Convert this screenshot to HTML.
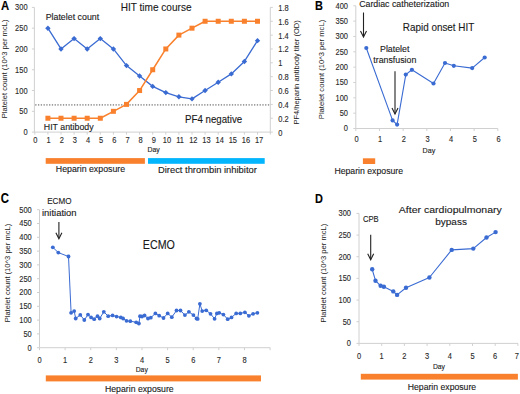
<!DOCTYPE html>
<html><head><meta charset="utf-8"><style>
html,body{margin:0;padding:0;background:#fff;width:520px;height:394px;overflow:hidden}
svg{display:block;font-family:"Liberation Sans",sans-serif}
text{stroke:currentColor;stroke-width:0.12px}
</style></head><body>
<svg width="520" height="394" viewBox="0 0 520 394">
<rect width="520" height="394" fill="#fff"/>
<line x1="34.40" y1="7.40" x2="34.40" y2="132.10" stroke="#d0d0d0" stroke-width="1" />
<line x1="31.90" y1="132.10" x2="34.40" y2="132.10" stroke="#d0d0d0" stroke-width="1" />
<text x="23.44" y="135.07" font-size="8.60" fill="#2a2a2a" color="#2a2a2a" textLength="4.16" lengthAdjust="spacingAndGlyphs">0</text>
<line x1="31.90" y1="111.32" x2="34.40" y2="111.32" stroke="#d0d0d0" stroke-width="1" />
<text x="19.28" y="114.28" font-size="8.60" fill="#2a2a2a" color="#2a2a2a" textLength="8.32" lengthAdjust="spacingAndGlyphs">50</text>
<line x1="31.90" y1="90.53" x2="34.40" y2="90.53" stroke="#d0d0d0" stroke-width="1" />
<text x="15.12" y="93.50" font-size="8.60" fill="#2a2a2a" color="#2a2a2a" textLength="12.48" lengthAdjust="spacingAndGlyphs">100</text>
<line x1="31.90" y1="69.75" x2="34.40" y2="69.75" stroke="#d0d0d0" stroke-width="1" />
<text x="15.12" y="72.72" font-size="8.60" fill="#2a2a2a" color="#2a2a2a" textLength="12.48" lengthAdjust="spacingAndGlyphs">150</text>
<line x1="31.90" y1="48.97" x2="34.40" y2="48.97" stroke="#d0d0d0" stroke-width="1" />
<text x="15.12" y="51.93" font-size="8.60" fill="#2a2a2a" color="#2a2a2a" textLength="12.48" lengthAdjust="spacingAndGlyphs">200</text>
<line x1="31.90" y1="28.18" x2="34.40" y2="28.18" stroke="#d0d0d0" stroke-width="1" />
<text x="15.12" y="31.15" font-size="8.60" fill="#2a2a2a" color="#2a2a2a" textLength="12.48" lengthAdjust="spacingAndGlyphs">250</text>
<line x1="31.90" y1="7.40" x2="34.40" y2="7.40" stroke="#d0d0d0" stroke-width="1" />
<text x="15.12" y="10.37" font-size="8.60" fill="#2a2a2a" color="#2a2a2a" textLength="12.48" lengthAdjust="spacingAndGlyphs">300</text>
<line x1="34.40" y1="132.10" x2="270.30" y2="132.10" stroke="#d0d0d0" stroke-width="1" />
<line x1="270.30" y1="7.40" x2="270.30" y2="134.60" stroke="#d0d0d0" stroke-width="1" />
<line x1="270.30" y1="132.10" x2="272.80" y2="132.10" stroke="#d0d0d0" stroke-width="1" />
<text x="278.30" y="135.57" font-size="8.60" fill="#2a2a2a" color="#2a2a2a" textLength="4.16" lengthAdjust="spacingAndGlyphs">0</text>
<line x1="270.30" y1="118.24" x2="272.80" y2="118.24" stroke="#d0d0d0" stroke-width="1" />
<text x="278.30" y="121.71" font-size="8.60" fill="#2a2a2a" color="#2a2a2a" textLength="10.40" lengthAdjust="spacingAndGlyphs">0.2</text>
<line x1="270.30" y1="104.39" x2="272.80" y2="104.39" stroke="#d0d0d0" stroke-width="1" />
<text x="278.30" y="107.86" font-size="8.60" fill="#2a2a2a" color="#2a2a2a" textLength="10.40" lengthAdjust="spacingAndGlyphs">0.4</text>
<line x1="270.30" y1="90.53" x2="272.80" y2="90.53" stroke="#d0d0d0" stroke-width="1" />
<text x="278.30" y="94.00" font-size="8.60" fill="#2a2a2a" color="#2a2a2a" textLength="10.40" lengthAdjust="spacingAndGlyphs">0.6</text>
<line x1="270.30" y1="76.68" x2="272.80" y2="76.68" stroke="#d0d0d0" stroke-width="1" />
<text x="278.30" y="80.14" font-size="8.60" fill="#2a2a2a" color="#2a2a2a" textLength="10.40" lengthAdjust="spacingAndGlyphs">0.8</text>
<line x1="270.30" y1="62.82" x2="272.80" y2="62.82" stroke="#d0d0d0" stroke-width="1" />
<text x="278.30" y="66.29" font-size="8.60" fill="#2a2a2a" color="#2a2a2a" textLength="4.16" lengthAdjust="spacingAndGlyphs">1</text>
<line x1="270.30" y1="48.97" x2="272.80" y2="48.97" stroke="#d0d0d0" stroke-width="1" />
<text x="278.30" y="52.43" font-size="8.60" fill="#2a2a2a" color="#2a2a2a" textLength="10.40" lengthAdjust="spacingAndGlyphs">1.2</text>
<line x1="270.30" y1="35.11" x2="272.80" y2="35.11" stroke="#d0d0d0" stroke-width="1" />
<text x="278.30" y="38.58" font-size="8.60" fill="#2a2a2a" color="#2a2a2a" textLength="10.40" lengthAdjust="spacingAndGlyphs">1.4</text>
<line x1="270.30" y1="21.26" x2="272.80" y2="21.26" stroke="#d0d0d0" stroke-width="1" />
<text x="278.30" y="24.72" font-size="8.60" fill="#2a2a2a" color="#2a2a2a" textLength="10.40" lengthAdjust="spacingAndGlyphs">1.6</text>
<line x1="270.30" y1="7.40" x2="272.80" y2="7.40" stroke="#d0d0d0" stroke-width="1" />
<text x="278.30" y="10.87" font-size="8.60" fill="#2a2a2a" color="#2a2a2a" textLength="10.40" lengthAdjust="spacingAndGlyphs">1.8</text>
<line x1="34.80" y1="132.10" x2="34.80" y2="134.60" stroke="#d0d0d0" stroke-width="1" />
<text x="33.32" y="143.27" font-size="8.60" fill="#2a2a2a" color="#2a2a2a" textLength="4.16" lengthAdjust="spacingAndGlyphs">0</text>
<line x1="47.90" y1="132.10" x2="47.90" y2="134.60" stroke="#d0d0d0" stroke-width="1" />
<text x="46.48" y="143.27" font-size="8.60" fill="#2a2a2a" color="#2a2a2a" textLength="4.16" lengthAdjust="spacingAndGlyphs">1</text>
<line x1="61.00" y1="132.10" x2="61.00" y2="134.60" stroke="#d0d0d0" stroke-width="1" />
<text x="59.64" y="143.27" font-size="8.60" fill="#2a2a2a" color="#2a2a2a" textLength="4.16" lengthAdjust="spacingAndGlyphs">2</text>
<line x1="74.10" y1="132.10" x2="74.10" y2="134.60" stroke="#d0d0d0" stroke-width="1" />
<text x="72.80" y="143.27" font-size="8.60" fill="#2a2a2a" color="#2a2a2a" textLength="4.16" lengthAdjust="spacingAndGlyphs">3</text>
<line x1="87.20" y1="132.10" x2="87.20" y2="134.60" stroke="#d0d0d0" stroke-width="1" />
<text x="85.96" y="143.27" font-size="8.60" fill="#2a2a2a" color="#2a2a2a" textLength="4.16" lengthAdjust="spacingAndGlyphs">4</text>
<line x1="100.30" y1="132.10" x2="100.30" y2="134.60" stroke="#d0d0d0" stroke-width="1" />
<text x="99.12" y="143.27" font-size="8.60" fill="#2a2a2a" color="#2a2a2a" textLength="4.16" lengthAdjust="spacingAndGlyphs">5</text>
<line x1="113.40" y1="132.10" x2="113.40" y2="134.60" stroke="#d0d0d0" stroke-width="1" />
<text x="112.28" y="143.27" font-size="8.60" fill="#2a2a2a" color="#2a2a2a" textLength="4.16" lengthAdjust="spacingAndGlyphs">6</text>
<line x1="126.50" y1="132.10" x2="126.50" y2="134.60" stroke="#d0d0d0" stroke-width="1" />
<text x="125.44" y="143.27" font-size="8.60" fill="#2a2a2a" color="#2a2a2a" textLength="4.16" lengthAdjust="spacingAndGlyphs">7</text>
<line x1="139.60" y1="132.10" x2="139.60" y2="134.60" stroke="#d0d0d0" stroke-width="1" />
<text x="138.60" y="143.27" font-size="8.60" fill="#2a2a2a" color="#2a2a2a" textLength="4.16" lengthAdjust="spacingAndGlyphs">8</text>
<line x1="152.70" y1="132.10" x2="152.70" y2="134.60" stroke="#d0d0d0" stroke-width="1" />
<text x="151.76" y="143.27" font-size="8.60" fill="#2a2a2a" color="#2a2a2a" textLength="4.16" lengthAdjust="spacingAndGlyphs">9</text>
<line x1="165.80" y1="132.10" x2="165.80" y2="134.60" stroke="#d0d0d0" stroke-width="1" />
<text x="162.84" y="143.27" font-size="8.60" fill="#2a2a2a" color="#2a2a2a" textLength="8.32" lengthAdjust="spacingAndGlyphs">10</text>
<line x1="178.90" y1="132.10" x2="178.90" y2="134.60" stroke="#d0d0d0" stroke-width="1" />
<text x="176.28" y="143.27" font-size="8.60" fill="#2a2a2a" color="#2a2a2a" textLength="7.77" lengthAdjust="spacingAndGlyphs">11</text>
<line x1="192.00" y1="132.10" x2="192.00" y2="134.60" stroke="#d0d0d0" stroke-width="1" />
<text x="189.16" y="143.27" font-size="8.60" fill="#2a2a2a" color="#2a2a2a" textLength="8.32" lengthAdjust="spacingAndGlyphs">12</text>
<line x1="205.10" y1="132.10" x2="205.10" y2="134.60" stroke="#d0d0d0" stroke-width="1" />
<text x="202.32" y="143.27" font-size="8.60" fill="#2a2a2a" color="#2a2a2a" textLength="8.32" lengthAdjust="spacingAndGlyphs">13</text>
<line x1="218.20" y1="132.10" x2="218.20" y2="134.60" stroke="#d0d0d0" stroke-width="1" />
<text x="215.48" y="143.27" font-size="8.60" fill="#2a2a2a" color="#2a2a2a" textLength="8.32" lengthAdjust="spacingAndGlyphs">14</text>
<line x1="231.30" y1="132.10" x2="231.30" y2="134.60" stroke="#d0d0d0" stroke-width="1" />
<text x="228.64" y="143.27" font-size="8.60" fill="#2a2a2a" color="#2a2a2a" textLength="8.32" lengthAdjust="spacingAndGlyphs">15</text>
<line x1="244.40" y1="132.10" x2="244.40" y2="134.60" stroke="#d0d0d0" stroke-width="1" />
<text x="241.80" y="143.27" font-size="8.60" fill="#2a2a2a" color="#2a2a2a" textLength="8.32" lengthAdjust="spacingAndGlyphs">16</text>
<line x1="257.50" y1="132.10" x2="257.50" y2="134.60" stroke="#d0d0d0" stroke-width="1" />
<text x="254.96" y="143.27" font-size="8.60" fill="#2a2a2a" color="#2a2a2a" textLength="8.32" lengthAdjust="spacingAndGlyphs">17</text>
<text x="147.50" y="152.40" font-size="7.27" font-weight="normal" fill="#1a1a1a" color="#1a1a1a" textLength="12.30" lengthAdjust="spacingAndGlyphs">Day</text>
<line x1="35.20" y1="104.90" x2="270.30" y2="104.90" stroke="#9c9c9c" stroke-width="1.6" stroke-dasharray="1.3 1.47"/>
<polyline points="47.90,28.18 61.00,48.97 74.10,38.58 87.20,48.97 100.30,38.58 113.40,48.97 126.50,65.59 139.60,75.98 152.70,86.38 165.80,92.61 178.90,96.77 192.00,98.85 205.10,90.53 218.20,82.22 231.30,73.91 244.40,61.44 257.50,40.65" fill="none" stroke="#3a6bd2" stroke-width="1.3" stroke-linejoin="round"/>
<polygon points="47.90,25.48 50.60,28.18 47.90,30.88 45.20,28.18" fill="#3a6bd2"/>
<polygon points="61.00,46.27 63.70,48.97 61.00,51.67 58.30,48.97" fill="#3a6bd2"/>
<polygon points="74.10,35.88 76.80,38.58 74.10,41.28 71.40,38.58" fill="#3a6bd2"/>
<polygon points="87.20,46.27 89.90,48.97 87.20,51.67 84.50,48.97" fill="#3a6bd2"/>
<polygon points="100.30,35.88 103.00,38.58 100.30,41.28 97.60,38.58" fill="#3a6bd2"/>
<polygon points="113.40,46.27 116.10,48.97 113.40,51.67 110.70,48.97" fill="#3a6bd2"/>
<polygon points="126.50,62.89 129.20,65.59 126.50,68.29 123.80,65.59" fill="#3a6bd2"/>
<polygon points="139.60,73.28 142.30,75.98 139.60,78.68 136.90,75.98" fill="#3a6bd2"/>
<polygon points="152.70,83.68 155.40,86.38 152.70,89.08 150.00,86.38" fill="#3a6bd2"/>
<polygon points="165.80,89.91 168.50,92.61 165.80,95.31 163.10,92.61" fill="#3a6bd2"/>
<polygon points="178.90,94.07 181.60,96.77 178.90,99.47 176.20,96.77" fill="#3a6bd2"/>
<polygon points="192.00,96.15 194.70,98.85 192.00,101.55 189.30,98.85" fill="#3a6bd2"/>
<polygon points="205.10,87.83 207.80,90.53 205.10,93.23 202.40,90.53" fill="#3a6bd2"/>
<polygon points="218.20,79.52 220.90,82.22 218.20,84.92 215.50,82.22" fill="#3a6bd2"/>
<polygon points="231.30,71.21 234.00,73.91 231.30,76.61 228.60,73.91" fill="#3a6bd2"/>
<polygon points="244.40,58.74 247.10,61.44 244.40,64.14 241.70,61.44" fill="#3a6bd2"/>
<polygon points="257.50,37.95 260.20,40.65 257.50,43.35 254.80,40.65" fill="#3a6bd2"/>
<polyline points="47.90,118.24 61.00,118.24 74.10,118.24 87.20,118.24 100.30,118.24 113.40,111.32 126.50,104.39 139.60,90.53 152.70,69.75 165.80,48.97 178.90,35.11 192.00,28.18 205.10,21.26 218.20,21.26 231.30,21.26 244.40,21.26 257.50,21.26" fill="none" stroke="#f9812d" stroke-width="1.5" stroke-linejoin="round"/>
<rect x="45.40" y="115.74" width="5.00" height="5.00" fill="#f9812d"/>
<rect x="58.50" y="115.74" width="5.00" height="5.00" fill="#f9812d"/>
<rect x="71.60" y="115.74" width="5.00" height="5.00" fill="#f9812d"/>
<rect x="84.70" y="115.74" width="5.00" height="5.00" fill="#f9812d"/>
<rect x="97.80" y="115.74" width="5.00" height="5.00" fill="#f9812d"/>
<rect x="110.90" y="108.82" width="5.00" height="5.00" fill="#f9812d"/>
<rect x="124.00" y="101.89" width="5.00" height="5.00" fill="#f9812d"/>
<rect x="137.10" y="88.03" width="5.00" height="5.00" fill="#f9812d"/>
<rect x="150.20" y="67.25" width="5.00" height="5.00" fill="#f9812d"/>
<rect x="163.30" y="46.47" width="5.00" height="5.00" fill="#f9812d"/>
<rect x="176.40" y="32.61" width="5.00" height="5.00" fill="#f9812d"/>
<rect x="189.50" y="25.68" width="5.00" height="5.00" fill="#f9812d"/>
<rect x="202.60" y="18.76" width="5.00" height="5.00" fill="#f9812d"/>
<rect x="215.70" y="18.76" width="5.00" height="5.00" fill="#f9812d"/>
<rect x="228.80" y="18.76" width="5.00" height="5.00" fill="#f9812d"/>
<rect x="241.90" y="18.76" width="5.00" height="5.00" fill="#f9812d"/>
<rect x="255.00" y="18.76" width="5.00" height="5.00" fill="#f9812d"/>
<text x="1.00" y="9.60" font-size="12.79" font-weight="bold" fill="#000" color="#000" textLength="8.20" lengthAdjust="spacingAndGlyphs">A</text>
<text x="120.80" y="10.80" font-size="10.03" font-weight="normal" fill="#1a1a1a" color="#1a1a1a" textLength="70.70" lengthAdjust="spacingAndGlyphs">HIT time course</text>
<text x="45.65" y="19.80" font-size="8.94" font-weight="normal" fill="#1a1a1a" color="#1a1a1a" textLength="53.55" lengthAdjust="spacingAndGlyphs">Platelet count</text>
<text x="43.80" y="129.50" font-size="9.16" font-weight="normal" fill="#1a1a1a" color="#1a1a1a" textLength="49.80" lengthAdjust="spacingAndGlyphs">HIT antibody</text>
<text x="185.10" y="123.20" font-size="10.32" font-weight="normal" fill="#1a1a1a" color="#1a1a1a" textLength="57.10" lengthAdjust="spacingAndGlyphs">PF4 negative</text>
<rect x="45.70" y="158.10" width="99.20" height="5.70" fill="#f9812d"/>
<rect x="148.00" y="158.10" width="116.70" height="5.70" fill="#03b5fc"/>
<text x="55.80" y="172.30" font-size="8.87" font-weight="normal" fill="#1a1a1a" color="#1a1a1a" textLength="69.30" lengthAdjust="spacingAndGlyphs">Heparin exposure</text>
<text x="158.00" y="173.10" font-size="9.16" font-weight="normal" fill="#1a1a1a" color="#1a1a1a" textLength="98.80" lengthAdjust="spacingAndGlyphs">Direct thrombin inhibitor</text>
<text transform="translate(6.90,118.20) rotate(-90)" x="0.00" y="0" font-size="8.00" fill="#1a1a1a" style="stroke:none" textLength="98.60" lengthAdjust="spacingAndGlyphs">Platelet count (10^3 per mcL)</text>
<text transform="translate(299.20,124.60) rotate(-90)" x="0.00" y="0" font-size="7.50" fill="#1a1a1a" style="stroke:none" textLength="104.30" lengthAdjust="spacingAndGlyphs">PF4/heparin antibody titer (OD)</text>
<line x1="355.80" y1="5.80" x2="355.80" y2="128.50" stroke="#d0d0d0" stroke-width="1" />
<line x1="353.30" y1="128.50" x2="355.80" y2="128.50" stroke="#d0d0d0" stroke-width="1" />
<text x="343.84" y="131.47" font-size="8.60" fill="#2a2a2a" color="#2a2a2a" textLength="4.16" lengthAdjust="spacingAndGlyphs">0</text>
<line x1="353.30" y1="113.16" x2="355.80" y2="113.16" stroke="#d0d0d0" stroke-width="1" />
<text x="339.68" y="116.13" font-size="8.60" fill="#2a2a2a" color="#2a2a2a" textLength="8.32" lengthAdjust="spacingAndGlyphs">50</text>
<line x1="353.30" y1="97.83" x2="355.80" y2="97.83" stroke="#d0d0d0" stroke-width="1" />
<text x="335.52" y="100.79" font-size="8.60" fill="#2a2a2a" color="#2a2a2a" textLength="12.48" lengthAdjust="spacingAndGlyphs">100</text>
<line x1="353.30" y1="82.49" x2="355.80" y2="82.49" stroke="#d0d0d0" stroke-width="1" />
<text x="335.52" y="85.45" font-size="8.60" fill="#2a2a2a" color="#2a2a2a" textLength="12.48" lengthAdjust="spacingAndGlyphs">150</text>
<line x1="353.30" y1="67.15" x2="355.80" y2="67.15" stroke="#d0d0d0" stroke-width="1" />
<text x="335.52" y="70.12" font-size="8.60" fill="#2a2a2a" color="#2a2a2a" textLength="12.48" lengthAdjust="spacingAndGlyphs">200</text>
<line x1="353.30" y1="51.81" x2="355.80" y2="51.81" stroke="#d0d0d0" stroke-width="1" />
<text x="335.52" y="54.78" font-size="8.60" fill="#2a2a2a" color="#2a2a2a" textLength="12.48" lengthAdjust="spacingAndGlyphs">250</text>
<line x1="353.30" y1="36.47" x2="355.80" y2="36.47" stroke="#d0d0d0" stroke-width="1" />
<text x="335.52" y="39.44" font-size="8.60" fill="#2a2a2a" color="#2a2a2a" textLength="12.48" lengthAdjust="spacingAndGlyphs">300</text>
<line x1="353.30" y1="21.14" x2="355.80" y2="21.14" stroke="#d0d0d0" stroke-width="1" />
<text x="335.52" y="24.10" font-size="8.60" fill="#2a2a2a" color="#2a2a2a" textLength="12.48" lengthAdjust="spacingAndGlyphs">350</text>
<line x1="353.30" y1="5.80" x2="355.80" y2="5.80" stroke="#d0d0d0" stroke-width="1" />
<text x="335.52" y="8.77" font-size="8.60" fill="#2a2a2a" color="#2a2a2a" textLength="12.48" lengthAdjust="spacingAndGlyphs">400</text>
<line x1="355.80" y1="128.50" x2="497.80" y2="128.50" stroke="#d0d0d0" stroke-width="1" />
<line x1="355.80" y1="128.50" x2="355.80" y2="131.00" stroke="#d0d0d0" stroke-width="1" />
<text x="354.42" y="141.57" font-size="8.60" fill="#2a2a2a" color="#2a2a2a" textLength="4.16" lengthAdjust="spacingAndGlyphs">0</text>
<line x1="379.47" y1="128.50" x2="379.47" y2="131.00" stroke="#d0d0d0" stroke-width="1" />
<text x="378.09" y="141.57" font-size="8.60" fill="#2a2a2a" color="#2a2a2a" textLength="4.16" lengthAdjust="spacingAndGlyphs">1</text>
<line x1="403.14" y1="128.50" x2="403.14" y2="131.00" stroke="#d0d0d0" stroke-width="1" />
<text x="401.76" y="141.57" font-size="8.60" fill="#2a2a2a" color="#2a2a2a" textLength="4.16" lengthAdjust="spacingAndGlyphs">2</text>
<line x1="426.81" y1="128.50" x2="426.81" y2="131.00" stroke="#d0d0d0" stroke-width="1" />
<text x="425.43" y="141.57" font-size="8.60" fill="#2a2a2a" color="#2a2a2a" textLength="4.16" lengthAdjust="spacingAndGlyphs">3</text>
<line x1="450.48" y1="128.50" x2="450.48" y2="131.00" stroke="#d0d0d0" stroke-width="1" />
<text x="449.10" y="141.57" font-size="8.60" fill="#2a2a2a" color="#2a2a2a" textLength="4.16" lengthAdjust="spacingAndGlyphs">4</text>
<line x1="474.15" y1="128.50" x2="474.15" y2="131.00" stroke="#d0d0d0" stroke-width="1" />
<text x="472.77" y="141.57" font-size="8.60" fill="#2a2a2a" color="#2a2a2a" textLength="4.16" lengthAdjust="spacingAndGlyphs">5</text>
<line x1="497.82" y1="128.50" x2="497.82" y2="131.00" stroke="#d0d0d0" stroke-width="1" />
<text x="496.44" y="141.57" font-size="8.60" fill="#2a2a2a" color="#2a2a2a" textLength="4.16" lengthAdjust="spacingAndGlyphs">6</text>
<text x="422.60" y="152.60" font-size="7.50" font-weight="normal" fill="#1a1a1a" color="#1a1a1a" textLength="12.60" lengthAdjust="spacingAndGlyphs">Day</text>
<polyline points="366.30,48.00 392.60,120.40 397.10,124.60 405.80,74.60 411.90,69.80 433.50,83.50 445.00,63.00 453.80,65.80 472.20,68.10 484.70,57.50" fill="none" stroke="#3a6bd2" stroke-width="1.1" stroke-linejoin="round"/>
<circle cx="366.30" cy="48.00" r="2.1" fill="#3a6bd2"/>
<circle cx="392.60" cy="120.40" r="2.1" fill="#3a6bd2"/>
<circle cx="397.10" cy="124.60" r="2.1" fill="#3a6bd2"/>
<circle cx="405.80" cy="74.60" r="2.1" fill="#3a6bd2"/>
<circle cx="411.90" cy="69.80" r="2.1" fill="#3a6bd2"/>
<circle cx="433.50" cy="83.50" r="2.1" fill="#3a6bd2"/>
<circle cx="445.00" cy="63.00" r="2.1" fill="#3a6bd2"/>
<circle cx="453.80" cy="65.80" r="2.1" fill="#3a6bd2"/>
<circle cx="472.20" cy="68.10" r="2.1" fill="#3a6bd2"/>
<circle cx="484.70" cy="57.50" r="2.1" fill="#3a6bd2"/>
<line x1="363.50" y1="12.50" x2="363.50" y2="36.40" stroke="#222" stroke-width="1.1" />
<polyline points="360.50,30.90 363.50,36.90 366.50,30.90" fill="none" stroke="#222" stroke-width="1.1"/>
<line x1="395.00" y1="71.20" x2="395.00" y2="113.40" stroke="#222" stroke-width="1.1" />
<polyline points="392.00,107.90 395.00,113.90 398.00,107.90" fill="none" stroke="#222" stroke-width="1.1"/>
<text x="315.00" y="9.80" font-size="12.79" font-weight="bold" fill="#000" color="#000" textLength="7.90" lengthAdjust="spacingAndGlyphs">B</text>
<text x="359.20" y="7.40" font-size="8.87" font-weight="normal" fill="#1a1a1a" color="#1a1a1a" textLength="90.00" lengthAdjust="spacingAndGlyphs">Cardiac catheterization</text>
<text x="402.80" y="31.20" font-size="10.76" font-weight="normal" fill="#1a1a1a" color="#1a1a1a" textLength="71.50" lengthAdjust="spacingAndGlyphs">Rapid onset HIT</text>
<text x="380.00" y="51.90" font-size="8.87" font-weight="normal" fill="#1a1a1a" color="#1a1a1a" textLength="29.40" lengthAdjust="spacingAndGlyphs">Platelet</text>
<text x="373.30" y="62.90" font-size="8.90" font-weight="normal" fill="#1a1a1a" color="#1a1a1a" textLength="43.00" lengthAdjust="spacingAndGlyphs">transfusion</text>
<rect x="362.90" y="158.30" width="12.30" height="5.70" fill="#f9812d"/>
<text x="334.40" y="173.60" font-size="8.87" font-weight="normal" fill="#1a1a1a" color="#1a1a1a" textLength="68.70" lengthAdjust="spacingAndGlyphs">Heparin exposure</text>
<text transform="translate(323.60,119.20) rotate(-90)" x="0.00" y="0" font-size="8.00" fill="#1a1a1a" style="stroke:none" textLength="99.40" lengthAdjust="spacingAndGlyphs">Platelet count (10^3 per mcL)</text>
<line x1="39.50" y1="209.70" x2="39.50" y2="347.70" stroke="#d0d0d0" stroke-width="1" />
<line x1="37.00" y1="347.70" x2="39.50" y2="347.70" stroke="#d0d0d0" stroke-width="1" />
<text x="27.54" y="350.67" font-size="8.60" fill="#2a2a2a" color="#2a2a2a" textLength="4.16" lengthAdjust="spacingAndGlyphs">0</text>
<line x1="37.00" y1="333.90" x2="39.50" y2="333.90" stroke="#d0d0d0" stroke-width="1" />
<text x="23.38" y="336.87" font-size="8.60" fill="#2a2a2a" color="#2a2a2a" textLength="8.32" lengthAdjust="spacingAndGlyphs">50</text>
<line x1="37.00" y1="320.10" x2="39.50" y2="320.10" stroke="#d0d0d0" stroke-width="1" />
<text x="19.22" y="323.07" font-size="8.60" fill="#2a2a2a" color="#2a2a2a" textLength="12.48" lengthAdjust="spacingAndGlyphs">100</text>
<line x1="37.00" y1="306.30" x2="39.50" y2="306.30" stroke="#d0d0d0" stroke-width="1" />
<text x="19.22" y="309.27" font-size="8.60" fill="#2a2a2a" color="#2a2a2a" textLength="12.48" lengthAdjust="spacingAndGlyphs">150</text>
<line x1="37.00" y1="292.50" x2="39.50" y2="292.50" stroke="#d0d0d0" stroke-width="1" />
<text x="19.22" y="295.47" font-size="8.60" fill="#2a2a2a" color="#2a2a2a" textLength="12.48" lengthAdjust="spacingAndGlyphs">200</text>
<line x1="37.00" y1="278.70" x2="39.50" y2="278.70" stroke="#d0d0d0" stroke-width="1" />
<text x="19.22" y="281.67" font-size="8.60" fill="#2a2a2a" color="#2a2a2a" textLength="12.48" lengthAdjust="spacingAndGlyphs">250</text>
<line x1="37.00" y1="264.90" x2="39.50" y2="264.90" stroke="#d0d0d0" stroke-width="1" />
<text x="19.22" y="267.87" font-size="8.60" fill="#2a2a2a" color="#2a2a2a" textLength="12.48" lengthAdjust="spacingAndGlyphs">300</text>
<line x1="37.00" y1="251.10" x2="39.50" y2="251.10" stroke="#d0d0d0" stroke-width="1" />
<text x="19.22" y="254.07" font-size="8.60" fill="#2a2a2a" color="#2a2a2a" textLength="12.48" lengthAdjust="spacingAndGlyphs">350</text>
<line x1="37.00" y1="237.30" x2="39.50" y2="237.30" stroke="#d0d0d0" stroke-width="1" />
<text x="19.22" y="240.27" font-size="8.60" fill="#2a2a2a" color="#2a2a2a" textLength="12.48" lengthAdjust="spacingAndGlyphs">400</text>
<line x1="37.00" y1="223.50" x2="39.50" y2="223.50" stroke="#d0d0d0" stroke-width="1" />
<text x="19.22" y="226.47" font-size="8.60" fill="#2a2a2a" color="#2a2a2a" textLength="12.48" lengthAdjust="spacingAndGlyphs">450</text>
<line x1="37.00" y1="209.70" x2="39.50" y2="209.70" stroke="#d0d0d0" stroke-width="1" />
<text x="19.22" y="212.67" font-size="8.60" fill="#2a2a2a" color="#2a2a2a" textLength="12.48" lengthAdjust="spacingAndGlyphs">500</text>
<line x1="39.50" y1="347.70" x2="270.30" y2="347.70" stroke="#d0d0d0" stroke-width="1" />
<line x1="39.50" y1="347.70" x2="39.50" y2="350.20" stroke="#d0d0d0" stroke-width="1" />
<text x="37.42" y="362.97" font-size="8.60" fill="#2a2a2a" color="#2a2a2a" textLength="4.16" lengthAdjust="spacingAndGlyphs">0</text>
<line x1="65.12" y1="347.70" x2="65.12" y2="350.20" stroke="#d0d0d0" stroke-width="1" />
<text x="63.04" y="362.97" font-size="8.60" fill="#2a2a2a" color="#2a2a2a" textLength="4.16" lengthAdjust="spacingAndGlyphs">1</text>
<line x1="90.74" y1="347.70" x2="90.74" y2="350.20" stroke="#d0d0d0" stroke-width="1" />
<text x="88.66" y="362.97" font-size="8.60" fill="#2a2a2a" color="#2a2a2a" textLength="4.16" lengthAdjust="spacingAndGlyphs">2</text>
<line x1="116.36" y1="347.70" x2="116.36" y2="350.20" stroke="#d0d0d0" stroke-width="1" />
<text x="114.28" y="362.97" font-size="8.60" fill="#2a2a2a" color="#2a2a2a" textLength="4.16" lengthAdjust="spacingAndGlyphs">3</text>
<line x1="141.98" y1="347.70" x2="141.98" y2="350.20" stroke="#d0d0d0" stroke-width="1" />
<text x="139.90" y="362.97" font-size="8.60" fill="#2a2a2a" color="#2a2a2a" textLength="4.16" lengthAdjust="spacingAndGlyphs">4</text>
<line x1="167.60" y1="347.70" x2="167.60" y2="350.20" stroke="#d0d0d0" stroke-width="1" />
<text x="165.52" y="362.97" font-size="8.60" fill="#2a2a2a" color="#2a2a2a" textLength="4.16" lengthAdjust="spacingAndGlyphs">5</text>
<line x1="193.22" y1="347.70" x2="193.22" y2="350.20" stroke="#d0d0d0" stroke-width="1" />
<text x="191.14" y="362.97" font-size="8.60" fill="#2a2a2a" color="#2a2a2a" textLength="4.16" lengthAdjust="spacingAndGlyphs">6</text>
<line x1="218.84" y1="347.70" x2="218.84" y2="350.20" stroke="#d0d0d0" stroke-width="1" />
<text x="216.76" y="362.97" font-size="8.60" fill="#2a2a2a" color="#2a2a2a" textLength="4.16" lengthAdjust="spacingAndGlyphs">7</text>
<line x1="244.46" y1="347.70" x2="244.46" y2="350.20" stroke="#d0d0d0" stroke-width="1" />
<text x="242.38" y="362.97" font-size="8.60" fill="#2a2a2a" color="#2a2a2a" textLength="4.16" lengthAdjust="spacingAndGlyphs">8</text>
<line x1="270.08" y1="347.70" x2="270.08" y2="350.20" stroke="#d0d0d0" stroke-width="1" />
<text x="135.70" y="371.60" font-size="7.56" font-weight="normal" fill="#1a1a1a" color="#1a1a1a" textLength="12.10" lengthAdjust="spacingAndGlyphs">Day</text>
<polyline points="52.80,247.30 58.30,252.60 68.50,256.50 71.10,312.80 74.20,311.10 75.70,318.50 80.30,314.90 84.30,320.00 88.00,314.60 91.10,317.40 94.20,319.20 97.50,316.20 99.70,318.50 103.80,311.80 108.20,316.20 112.60,315.40 116.60,316.60 120.80,317.40 123.10,318.50 126.50,320.80 130.30,321.20 136.20,322.30 138.90,323.50 140.00,316.20 142.00,316.50 144.60,315.50 148.00,318.50 150.80,317.70 155.40,313.40 159.20,315.70 163.50,318.00 167.70,313.40 171.80,317.20 176.50,310.50 180.50,310.50 184.90,315.10 188.90,311.80 193.40,315.10 196.50,318.50 197.70,318.90 199.90,303.80 202.20,311.10 206.20,310.30 210.50,313.80 214.60,318.80 216.90,313.40 219.20,312.80 223.40,314.60 227.70,319.20 231.50,317.40 236.20,313.40 240.30,313.40 244.90,312.30 248.90,315.80 253.10,313.80 257.40,312.80" fill="none" stroke="#3a6bd2" stroke-width="1.0" stroke-linejoin="round"/>
<circle cx="52.80" cy="247.30" r="1.9" fill="#3a6bd2"/>
<circle cx="58.30" cy="252.60" r="1.9" fill="#3a6bd2"/>
<circle cx="68.50" cy="256.50" r="1.9" fill="#3a6bd2"/>
<circle cx="71.10" cy="312.80" r="1.9" fill="#3a6bd2"/>
<circle cx="74.20" cy="311.10" r="1.9" fill="#3a6bd2"/>
<circle cx="75.70" cy="318.50" r="1.9" fill="#3a6bd2"/>
<circle cx="80.30" cy="314.90" r="1.9" fill="#3a6bd2"/>
<circle cx="84.30" cy="320.00" r="1.9" fill="#3a6bd2"/>
<circle cx="88.00" cy="314.60" r="1.9" fill="#3a6bd2"/>
<circle cx="91.10" cy="317.40" r="1.9" fill="#3a6bd2"/>
<circle cx="94.20" cy="319.20" r="1.9" fill="#3a6bd2"/>
<circle cx="97.50" cy="316.20" r="1.9" fill="#3a6bd2"/>
<circle cx="99.70" cy="318.50" r="1.9" fill="#3a6bd2"/>
<circle cx="103.80" cy="311.80" r="1.9" fill="#3a6bd2"/>
<circle cx="108.20" cy="316.20" r="1.9" fill="#3a6bd2"/>
<circle cx="112.60" cy="315.40" r="1.9" fill="#3a6bd2"/>
<circle cx="116.60" cy="316.60" r="1.9" fill="#3a6bd2"/>
<circle cx="120.80" cy="317.40" r="1.9" fill="#3a6bd2"/>
<circle cx="123.10" cy="318.50" r="1.9" fill="#3a6bd2"/>
<circle cx="126.50" cy="320.80" r="1.9" fill="#3a6bd2"/>
<circle cx="130.30" cy="321.20" r="1.9" fill="#3a6bd2"/>
<circle cx="136.20" cy="322.30" r="1.9" fill="#3a6bd2"/>
<circle cx="138.90" cy="323.50" r="1.9" fill="#3a6bd2"/>
<circle cx="140.00" cy="316.20" r="1.9" fill="#3a6bd2"/>
<circle cx="142.00" cy="316.50" r="1.9" fill="#3a6bd2"/>
<circle cx="144.60" cy="315.50" r="1.9" fill="#3a6bd2"/>
<circle cx="148.00" cy="318.50" r="1.9" fill="#3a6bd2"/>
<circle cx="150.80" cy="317.70" r="1.9" fill="#3a6bd2"/>
<circle cx="155.40" cy="313.40" r="1.9" fill="#3a6bd2"/>
<circle cx="159.20" cy="315.70" r="1.9" fill="#3a6bd2"/>
<circle cx="163.50" cy="318.00" r="1.9" fill="#3a6bd2"/>
<circle cx="167.70" cy="313.40" r="1.9" fill="#3a6bd2"/>
<circle cx="171.80" cy="317.20" r="1.9" fill="#3a6bd2"/>
<circle cx="176.50" cy="310.50" r="1.9" fill="#3a6bd2"/>
<circle cx="180.50" cy="310.50" r="1.9" fill="#3a6bd2"/>
<circle cx="184.90" cy="315.10" r="1.9" fill="#3a6bd2"/>
<circle cx="188.90" cy="311.80" r="1.9" fill="#3a6bd2"/>
<circle cx="193.40" cy="315.10" r="1.9" fill="#3a6bd2"/>
<circle cx="196.50" cy="318.50" r="1.9" fill="#3a6bd2"/>
<circle cx="197.70" cy="318.90" r="1.9" fill="#3a6bd2"/>
<circle cx="199.90" cy="303.80" r="1.9" fill="#3a6bd2"/>
<circle cx="202.20" cy="311.10" r="1.9" fill="#3a6bd2"/>
<circle cx="206.20" cy="310.30" r="1.9" fill="#3a6bd2"/>
<circle cx="210.50" cy="313.80" r="1.9" fill="#3a6bd2"/>
<circle cx="214.60" cy="318.80" r="1.9" fill="#3a6bd2"/>
<circle cx="216.90" cy="313.40" r="1.9" fill="#3a6bd2"/>
<circle cx="219.20" cy="312.80" r="1.9" fill="#3a6bd2"/>
<circle cx="223.40" cy="314.60" r="1.9" fill="#3a6bd2"/>
<circle cx="227.70" cy="319.20" r="1.9" fill="#3a6bd2"/>
<circle cx="231.50" cy="317.40" r="1.9" fill="#3a6bd2"/>
<circle cx="236.20" cy="313.40" r="1.9" fill="#3a6bd2"/>
<circle cx="240.30" cy="313.40" r="1.9" fill="#3a6bd2"/>
<circle cx="244.90" cy="312.30" r="1.9" fill="#3a6bd2"/>
<circle cx="248.90" cy="315.80" r="1.9" fill="#3a6bd2"/>
<circle cx="253.10" cy="313.80" r="1.9" fill="#3a6bd2"/>
<circle cx="257.40" cy="312.80" r="1.9" fill="#3a6bd2"/>
<line x1="58.90" y1="222.10" x2="58.90" y2="238.30" stroke="#222" stroke-width="1.1" />
<polyline points="55.90,232.80 58.90,238.80 61.90,232.80" fill="none" stroke="#222" stroke-width="1.1"/>
<text x="0.80" y="203.00" font-size="14.97" font-weight="bold" fill="#000" color="#000" textLength="8.20" lengthAdjust="spacingAndGlyphs">C</text>
<text x="47.20" y="204.30" font-size="9.00" font-weight="normal" fill="#1a1a1a" color="#1a1a1a" textLength="24.30" lengthAdjust="spacingAndGlyphs">ECMO</text>
<text x="42.00" y="216.02" font-size="9.00" font-weight="normal" fill="#1a1a1a" color="#1a1a1a" textLength="34.60" lengthAdjust="spacingAndGlyphs">initiation</text>
<text x="142.80" y="248.80" font-size="12.79" font-weight="normal" fill="#1a1a1a" color="#1a1a1a" textLength="32.10" lengthAdjust="spacingAndGlyphs">ECMO</text>
<rect x="45.80" y="375.40" width="215.20" height="6.00" fill="#f9812d"/>
<text x="105.00" y="391.50" font-size="8.72" font-weight="normal" fill="#1a1a1a" color="#1a1a1a" textLength="68.70" lengthAdjust="spacingAndGlyphs">Heparin exposure</text>
<text transform="translate(9.90,322.30) rotate(-90)" x="0.00" y="0" font-size="8.00" fill="#1a1a1a" style="stroke:none" textLength="98.50" lengthAdjust="spacingAndGlyphs">Platelet count (10^3 per mcL)</text>
<line x1="359.00" y1="213.40" x2="359.00" y2="343.40" stroke="#d0d0d0" stroke-width="1" />
<line x1="356.50" y1="343.40" x2="359.00" y2="343.40" stroke="#d0d0d0" stroke-width="1" />
<text x="346.84" y="346.37" font-size="8.60" fill="#2a2a2a" color="#2a2a2a" textLength="4.16" lengthAdjust="spacingAndGlyphs">0</text>
<line x1="356.50" y1="321.73" x2="359.00" y2="321.73" stroke="#d0d0d0" stroke-width="1" />
<text x="342.68" y="324.70" font-size="8.60" fill="#2a2a2a" color="#2a2a2a" textLength="8.32" lengthAdjust="spacingAndGlyphs">50</text>
<line x1="356.50" y1="300.07" x2="359.00" y2="300.07" stroke="#d0d0d0" stroke-width="1" />
<text x="338.52" y="303.03" font-size="8.60" fill="#2a2a2a" color="#2a2a2a" textLength="12.48" lengthAdjust="spacingAndGlyphs">100</text>
<line x1="356.50" y1="278.40" x2="359.00" y2="278.40" stroke="#d0d0d0" stroke-width="1" />
<text x="338.52" y="281.37" font-size="8.60" fill="#2a2a2a" color="#2a2a2a" textLength="12.48" lengthAdjust="spacingAndGlyphs">150</text>
<line x1="356.50" y1="256.73" x2="359.00" y2="256.73" stroke="#d0d0d0" stroke-width="1" />
<text x="338.52" y="259.70" font-size="8.60" fill="#2a2a2a" color="#2a2a2a" textLength="12.48" lengthAdjust="spacingAndGlyphs">200</text>
<line x1="356.50" y1="235.07" x2="359.00" y2="235.07" stroke="#d0d0d0" stroke-width="1" />
<text x="338.52" y="238.03" font-size="8.60" fill="#2a2a2a" color="#2a2a2a" textLength="12.48" lengthAdjust="spacingAndGlyphs">250</text>
<line x1="356.50" y1="213.40" x2="359.00" y2="213.40" stroke="#d0d0d0" stroke-width="1" />
<text x="338.52" y="216.37" font-size="8.60" fill="#2a2a2a" color="#2a2a2a" textLength="12.48" lengthAdjust="spacingAndGlyphs">300</text>
<line x1="359.00" y1="343.40" x2="518.00" y2="343.40" stroke="#d0d0d0" stroke-width="1" />
<line x1="359.00" y1="343.40" x2="359.00" y2="345.90" stroke="#d0d0d0" stroke-width="1" />
<text x="356.92" y="358.97" font-size="8.60" fill="#2a2a2a" color="#2a2a2a" textLength="4.16" lengthAdjust="spacingAndGlyphs">0</text>
<line x1="381.70" y1="343.40" x2="381.70" y2="345.90" stroke="#d0d0d0" stroke-width="1" />
<text x="379.62" y="358.97" font-size="8.60" fill="#2a2a2a" color="#2a2a2a" textLength="4.16" lengthAdjust="spacingAndGlyphs">1</text>
<line x1="404.40" y1="343.40" x2="404.40" y2="345.90" stroke="#d0d0d0" stroke-width="1" />
<text x="402.32" y="358.97" font-size="8.60" fill="#2a2a2a" color="#2a2a2a" textLength="4.16" lengthAdjust="spacingAndGlyphs">2</text>
<line x1="427.10" y1="343.40" x2="427.10" y2="345.90" stroke="#d0d0d0" stroke-width="1" />
<text x="425.02" y="358.97" font-size="8.60" fill="#2a2a2a" color="#2a2a2a" textLength="4.16" lengthAdjust="spacingAndGlyphs">3</text>
<line x1="449.80" y1="343.40" x2="449.80" y2="345.90" stroke="#d0d0d0" stroke-width="1" />
<text x="447.72" y="358.97" font-size="8.60" fill="#2a2a2a" color="#2a2a2a" textLength="4.16" lengthAdjust="spacingAndGlyphs">4</text>
<line x1="472.50" y1="343.40" x2="472.50" y2="345.90" stroke="#d0d0d0" stroke-width="1" />
<text x="470.42" y="358.97" font-size="8.60" fill="#2a2a2a" color="#2a2a2a" textLength="4.16" lengthAdjust="spacingAndGlyphs">5</text>
<line x1="495.20" y1="343.40" x2="495.20" y2="345.90" stroke="#d0d0d0" stroke-width="1" />
<text x="493.12" y="358.97" font-size="8.60" fill="#2a2a2a" color="#2a2a2a" textLength="4.16" lengthAdjust="spacingAndGlyphs">6</text>
<line x1="517.90" y1="343.40" x2="517.90" y2="345.90" stroke="#d0d0d0" stroke-width="1" />
<text x="514.72" y="358.97" font-size="8.60" fill="#2a2a2a" color="#2a2a2a" textLength="4.16" lengthAdjust="spacingAndGlyphs">7</text>
<text x="432.90" y="369.20" font-size="7.56" font-weight="normal" fill="#1a1a1a" color="#1a1a1a" textLength="12.10" lengthAdjust="spacingAndGlyphs">Day</text>
<polyline points="372.20,269.30 375.50,280.70 380.60,285.80 383.90,286.80 393.30,291.40 397.10,294.90 406.00,287.80 429.40,277.50 451.70,249.90 473.30,248.60 486.50,237.50 495.60,232.10" fill="none" stroke="#3a6bd2" stroke-width="1.1" stroke-linejoin="round"/>
<circle cx="372.20" cy="269.30" r="2.2" fill="#3a6bd2"/>
<circle cx="375.50" cy="280.70" r="2.2" fill="#3a6bd2"/>
<circle cx="380.60" cy="285.80" r="2.2" fill="#3a6bd2"/>
<circle cx="383.90" cy="286.80" r="2.2" fill="#3a6bd2"/>
<circle cx="393.30" cy="291.40" r="2.2" fill="#3a6bd2"/>
<circle cx="397.10" cy="294.90" r="2.2" fill="#3a6bd2"/>
<circle cx="406.00" cy="287.80" r="2.2" fill="#3a6bd2"/>
<circle cx="429.40" cy="277.50" r="2.2" fill="#3a6bd2"/>
<circle cx="451.70" cy="249.90" r="2.2" fill="#3a6bd2"/>
<circle cx="473.30" cy="248.60" r="2.2" fill="#3a6bd2"/>
<circle cx="486.50" cy="237.50" r="2.2" fill="#3a6bd2"/>
<circle cx="495.60" cy="232.10" r="2.2" fill="#3a6bd2"/>
<line x1="370.70" y1="234.70" x2="370.70" y2="259.20" stroke="#222" stroke-width="1.1" />
<polyline points="367.70,253.70 370.70,259.70 373.70,253.70" fill="none" stroke="#222" stroke-width="1.1"/>
<text x="315.00" y="202.50" font-size="13.66" font-weight="bold" fill="#000" color="#000" textLength="7.90" lengthAdjust="spacingAndGlyphs">D</text>
<text x="362.90" y="222.00" font-size="8.72" font-weight="normal" fill="#1a1a1a" color="#1a1a1a" textLength="15.70" lengthAdjust="spacingAndGlyphs">CPB</text>
<text x="398.80" y="213.10" font-size="9.88" font-weight="normal" fill="#1a1a1a" color="#1a1a1a" textLength="103.00" lengthAdjust="spacingAndGlyphs">After cardiopulmonary</text>
<text x="435.20" y="225.40" font-size="9.90" font-weight="normal" fill="#1a1a1a" color="#1a1a1a" textLength="31.70" lengthAdjust="spacingAndGlyphs">bypass</text>
<rect x="360.80" y="373.80" width="157.10" height="5.80" fill="#f9812d"/>
<text x="407.80" y="390.30" font-size="8.58" font-weight="normal" fill="#1a1a1a" color="#1a1a1a" textLength="68.30" lengthAdjust="spacingAndGlyphs">Heparin exposure</text>
<text transform="translate(326.00,322.40) rotate(-90)" x="0.00" y="0" font-size="7.60" fill="#1a1a1a" style="stroke:none" textLength="98.60" lengthAdjust="spacingAndGlyphs">Platelet count (10^3 per mcL)</text>
</svg></body></html>
